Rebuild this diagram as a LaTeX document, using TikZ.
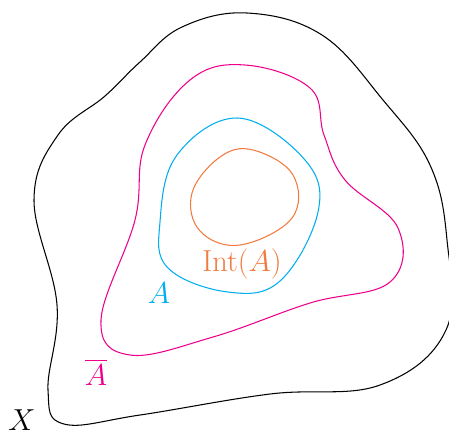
\documentclass[tikz,border=0pt]{standalone}
\usepackage{amsmath}
\usepackage{tikz}
\usetikzlibrary{calc}
\definecolor{clsclr}{RGB}{236, 0, 140}
\definecolor{setclr}{RGB}{0, 174, 239}
\definecolor{intclr}{RGB}{241, 122, 62}
\tikzset{
  % Chegaralar
  spaceline/.style = {semithick, draw=black, smooth cycle, tension=0.65},
  closline/.style  = {semithick, draw=clsclr, smooth cycle, tension=0.65},
  setline/.style   = {semithick, draw=setclr, smooth cycle, tension=0.65},
  intline/.style   = {semithick, draw=intclr, smooth cycle, tension=0.65},
  % Etiketlar
  lab/.style       = {font=\fontsize{16}{19}\selectfont, inner sep=1pt},
}
\begin{document}
\begin{tikzpicture}[x=0.02cm, y=-0.02cm]
  \useasboundingbox (0,0) rectangle (449,434);
  % Fazo X
  \draw[spaceline] plot coordinates {
    (247,13) (322,35) (383,100) (430,165) (447,240) (446,330) (380,385)
    (270,394) (140,415) (64,424) (48,390) (57,305) (34,200) (58,135)
    (105,96) (140,62) (182,27)};
  % Yopilma
  \draw[closline] plot coordinates {
    (245,65) (310,88) (324,135) (345,180) (398,228) (390,282) (310,303)
    (213,337) (130,355) (101,320) (135,220) (145,145) (190,80)};
  % To'plam A
  \draw[setline] plot coordinates {
    (238,118) (305,160) (318,212) (280,281) (228,292) (168,268)
    (160,222) (177,155)};
  % Ichki qism
  \draw[intline] plot coordinates {
    (253,150) (293,175) (292,218) (240,245) (200,231) (192,193) (220,157)};
  % Etiketlar
  \node[lab, text=intclr] (intA) at (242,264) {$\mathrm{Int}(A)$};
  \node[lab, text=setclr] (setA) at (159,293) {$A$};
  \node[lab, text=clsclr] (closA) at (96,372) {$\overline{A}$};
  \node[lab] (spX) at (22,420) {$X$};
\end{tikzpicture}
\end{document}
